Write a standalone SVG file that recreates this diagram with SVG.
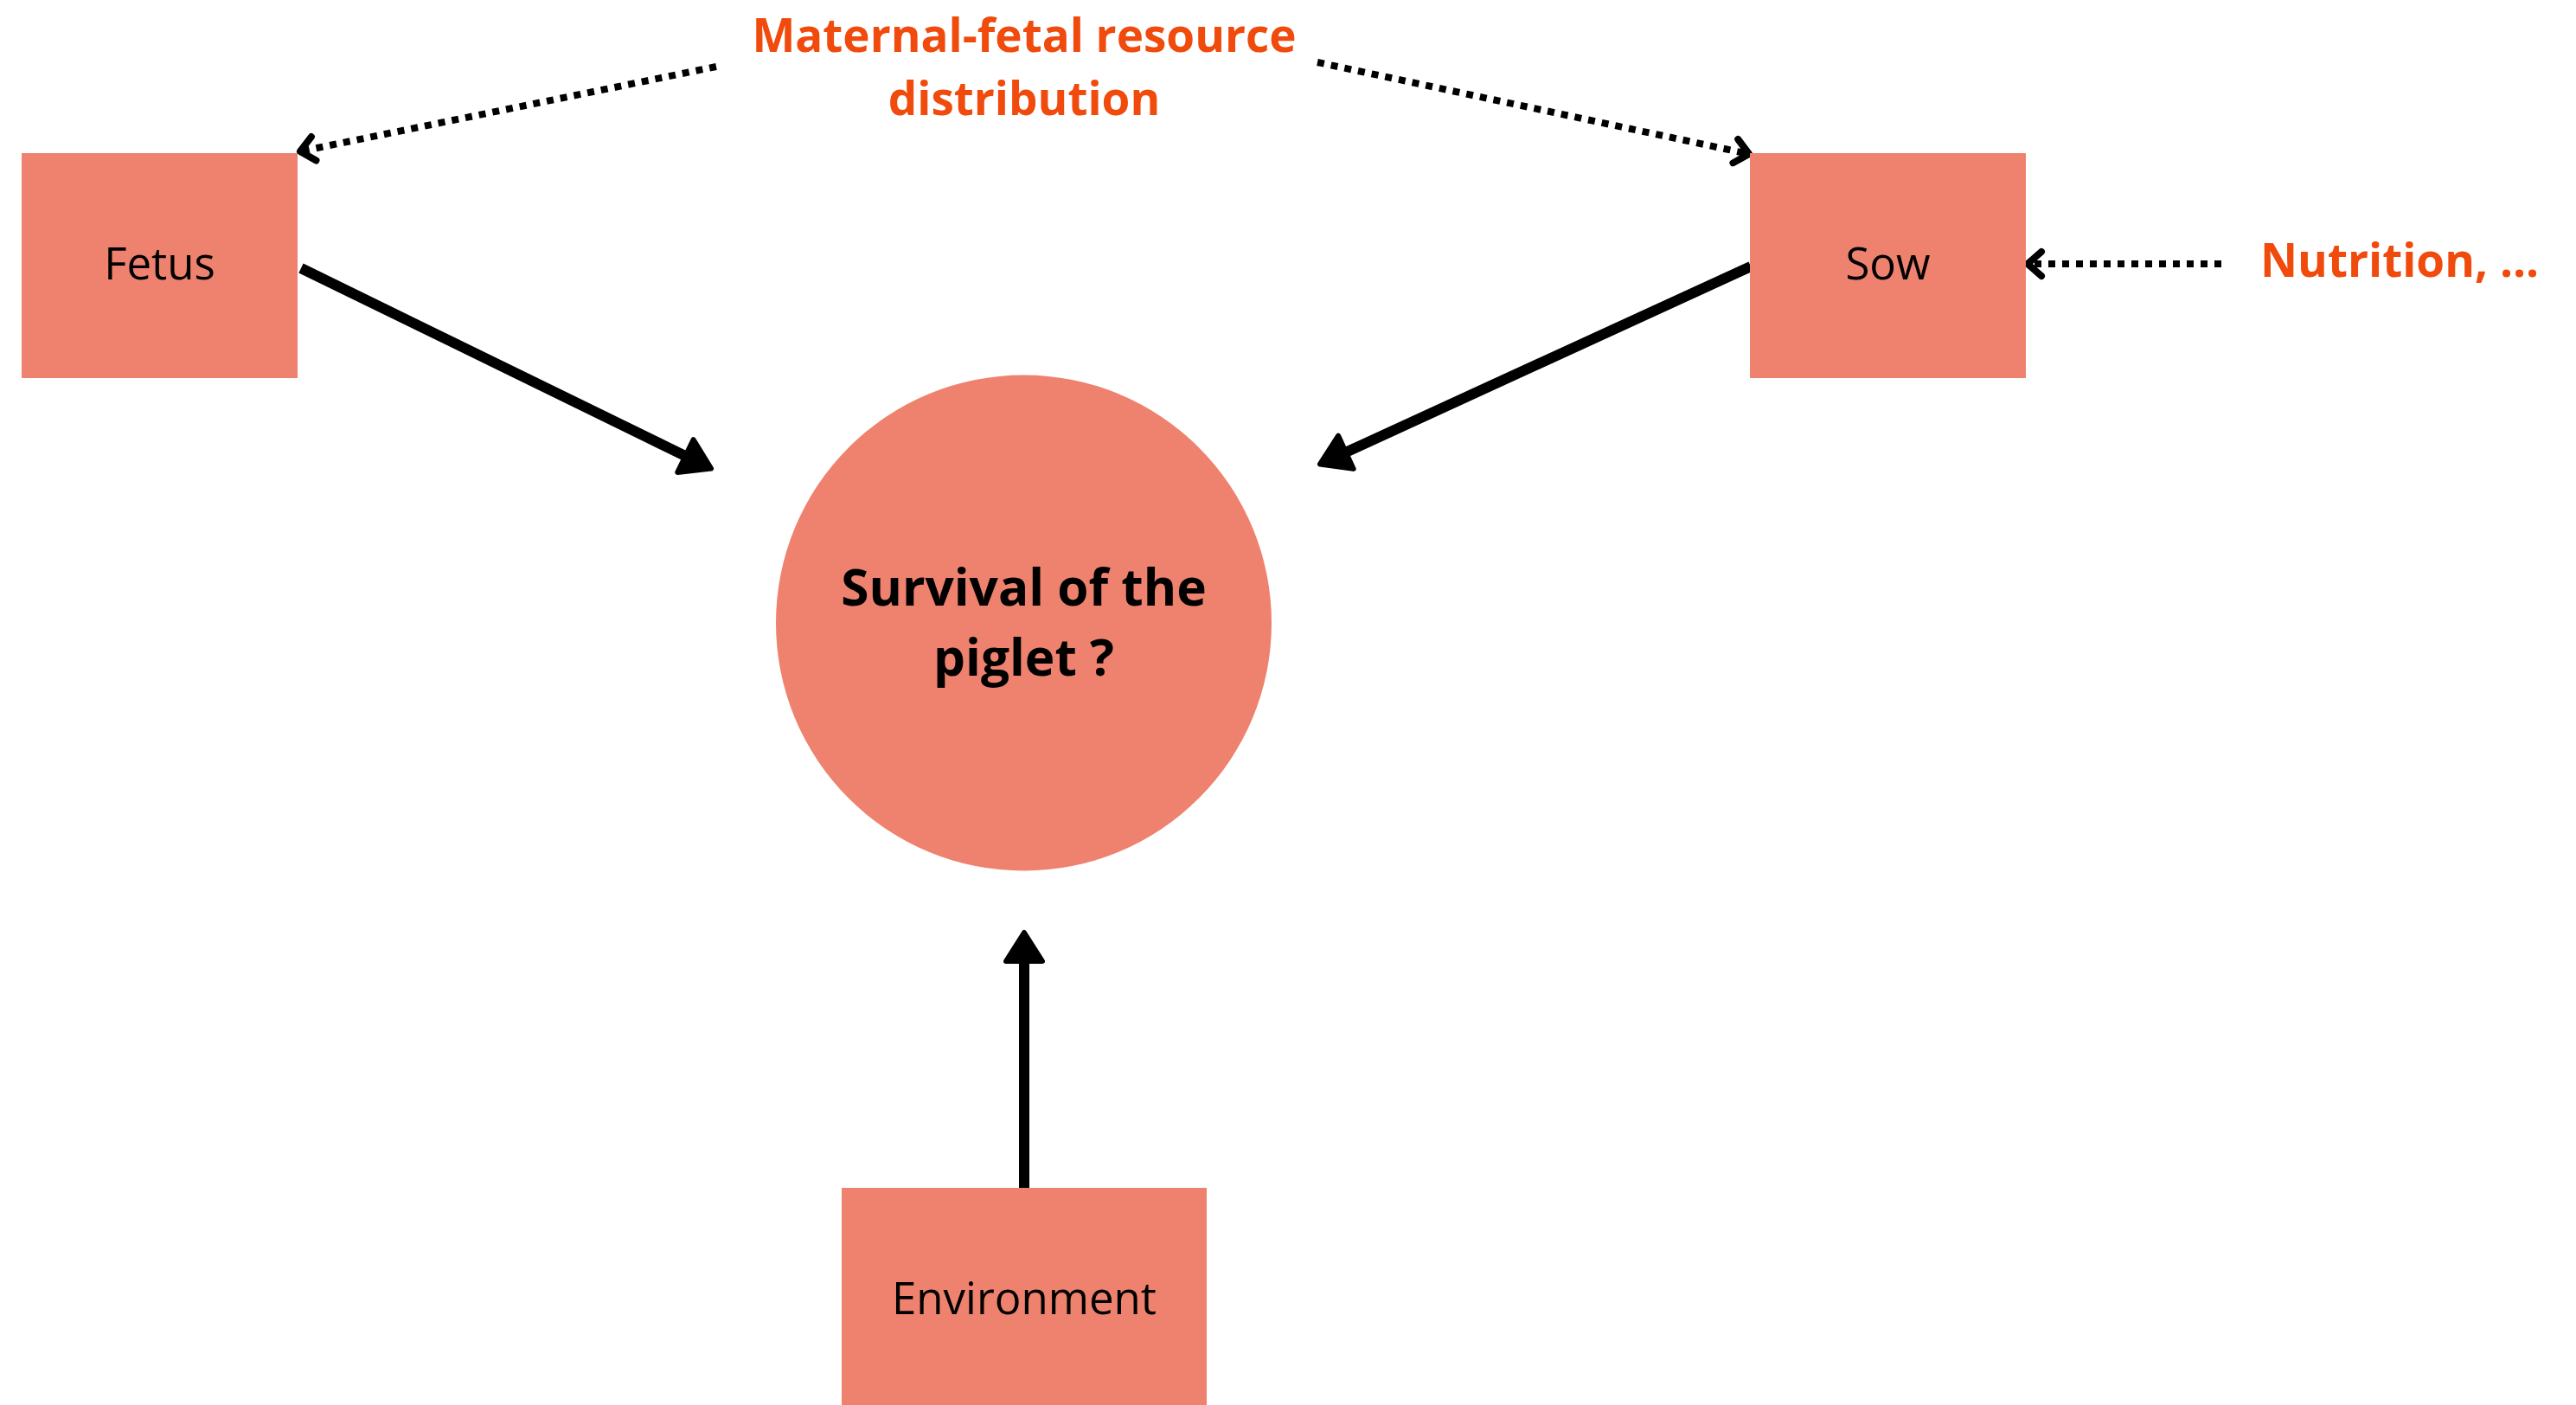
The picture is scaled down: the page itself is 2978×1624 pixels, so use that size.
<svg xmlns="http://www.w3.org/2000/svg" width="2978" height="1624" viewBox="0 0 2978 1624">
  <style>
    .box { fill: #EE826E; }
    .label { font-family: "Open Sans", "Liberation Sans", sans-serif; font-size: 51px; fill: #000; text-anchor: middle; }
    .title { font-family: "Open Sans", "Liberation Sans", sans-serif; font-size: 58.5px; font-weight: 700; fill: #000; text-anchor: middle; }
    .note { font-family: "Open Sans", "Liberation Sans", sans-serif; font-size: 53px; font-weight: 700; fill: #F04A0C; }
    .solid { stroke: #000; stroke-width: 12; fill: none; }
    .dotted { stroke: #000; stroke-width: 8; fill: none; stroke-dasharray: 8 8; }
  </style>
  <defs>
    <marker id="head" markerUnits="userSpaceOnUse" orient="auto" markerWidth="60" markerHeight="60" viewBox="-5 -30 50 60" refX="0" refY="0" overflow="visible">
      <path d="M0,-21 L33,0 L0,21 Z" fill="#000" stroke="#000" stroke-width="6" stroke-linejoin="round"/>
    </marker>
    <marker id="chev" markerUnits="userSpaceOnUse" orient="auto" markerWidth="40" markerHeight="40" viewBox="-30 -20 40 40" refX="0" refY="0" overflow="visible">
      <path d="M-16,-14 L0,0 L-16,14" fill="none" stroke="#000" stroke-width="8" stroke-linecap="round" stroke-linejoin="round"/>
    </marker>
  </defs>

  <g id="connectors">
    <path class="solid" d="M348,310 L792.4,527.1" marker-end="url(#head)"/>
    <path class="solid" d="M2024,308 L1555.9,522.8" marker-end="url(#head)"/>
    <path class="solid" d="M1184,1373 L1184,1111" marker-end="url(#head)"/>
    <path class="dotted" d="M828,77 L347,175" marker-end="url(#chev)"/>
    <path class="dotted" d="M1523,72 L2022,178" marker-end="url(#chev)"/>
    <path class="dotted" d="M2568,305 L2344,305" marker-end="url(#chev)"/>
  </g>

  <g id="fetus">
    <rect class="box" x="25" y="177" width="319" height="260"/>
    <text class="label" x="184.5" y="323">Fetus</text>
  </g>

  <g id="sow">
    <rect class="box" x="2023" y="177" width="319" height="260"/>
    <text class="label" x="2182.5" y="323">Sow</text>
  </g>

  <g id="survival">
    <circle class="box" cx="1183.5" cy="720" r="286.5"/>
    <text class="title" x="1183.5" y="700">Survival of the</text>
    <text class="title" x="1183.5" y="781">piglet ?</text>
  </g>

  <g id="environment">
    <rect class="box" x="973" y="1373" width="422" height="251"/>
    <text class="label" x="1184" y="1519">Environment</text>
  </g>

  <g id="resource-note">
    <text class="note" x="1184" y="60" text-anchor="middle">Maternal-fetal resource</text>
    <text class="note" x="1184" y="133" text-anchor="middle">distribution</text>
  </g>

  <g id="nutrition-note">
    <text class="note" x="2613" y="320" font-size="52">Nutrition, ...</text>
  </g>
</svg>
